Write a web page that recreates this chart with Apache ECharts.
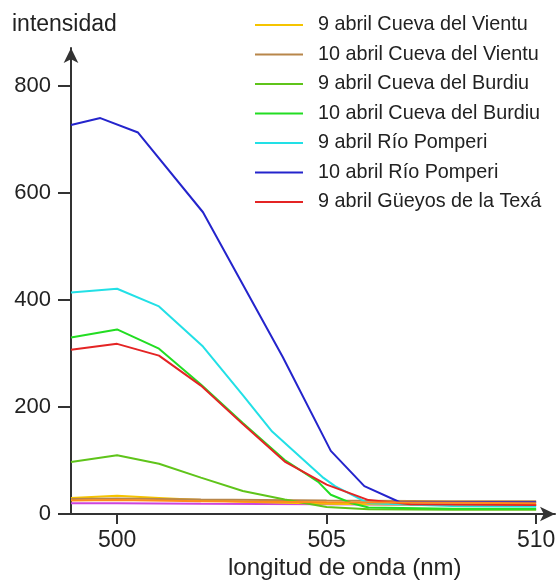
<!DOCTYPE html>
<html>
<head>
<meta charset="utf-8">
<script src="https://cdn.jsdelivr.net/npm/echarts@6/dist/echarts.min.js"></script>
<style>html,body{margin:0;padding:0;background:#fff;}#c{width:560px;height:582px;}</style>
</head>
<body>
<div id="c"></div>
<script>
// Data
const seriesNames = [
  '9 abril Cueva del Vientu',
  '10 abril Cueva del Vientu',
  '9 abril Cueva del Burdiu',
  '10 abril Cueva del Burdiu',
  '9 abril Río Pomperi',
  '10 abril Río Pomperi',
  '9 abril Güeyos de la Texá'
];
const xTicks = [500, 505, 510];
const yTicks = [0, 200, 400, 600, 800];

const xVientu9 = [498.9, 500, 501, 502, 503, 504, 505, 506, 508, 510];
const yVientu9 = [30, 34, 30, 26, 23, 21, 19, 18, 17, 17];
const xVientu10 = [498.9, 500, 502, 505, 508, 510];
const yVientu10 = [28, 29, 27, 25, 24, 24];
const xBurdiu9 = [498.9, 500, 501, 502, 503, 504, 505, 506, 508, 510];
const yBurdiu9 = [97, 110, 94, 68, 43, 27, 13, 9, 8, 8];
const xBurdiu10 = [498.9, 500, 501, 502, 503, 504, 504.8, 505.1, 505.6, 506, 508, 510];
const yBurdiu10 = [330, 345, 309, 242, 170, 101, 60, 36, 20, 12, 10, 10];
const xPomperi9 = [498.9, 500, 501, 502.05, 503, 503.7, 504.9, 505.2, 506, 508, 510];
const yPomperi9 = [414, 421, 388, 313, 222, 154, 69, 52, 20, 15, 14];
const xPomperi10 = [498.9, 499.6, 500.5, 502.05, 503.95, 505.1, 505.9, 506.75, 508, 510];
const yPomperi10 = [727, 740, 713, 564, 294, 118, 52, 22, 22, 22];
const xTexa9 = [498.9, 500, 501, 502, 503, 504, 505, 506, 507, 510];
const yTexa9 = [307, 318, 296, 240, 168, 98, 55, 26, 18, 17];
// two unlabeled traces near the baseline
const xExtraA = [498.9, 500, 502, 505, 508, 510];
const yExtraA = [20, 20, 19, 18, 17, 17];
const xExtraB = [498.9, 500, 502, 505, 508, 510];
const yExtraB = [25, 26, 24, 22, 21, 20];

const colors = ['#f5c400', '#b8864a', '#5fc41a', '#22dd22', '#22e0e6', '#2424cc', '#e42424'];
const xs = [xVientu9, xVientu10, xBurdiu9, xBurdiu10, xPomperi9, xPomperi10, xTexa9];
const ys = [yVientu9, yVientu10, yBurdiu9, yBurdiu10, yPomperi9, yPomperi10, yTexa9];

function pairs(x, y) { return x.map((v, i) => [v, y[i]]); }

const series = [];
series.push({ name: 'extraA', type: 'line', data: pairs(xExtraA, yExtraA), symbol: 'none',
  lineStyle: { width: 2, color: '#cc44dd' }, itemStyle: { color: '#cc44dd' } });
seriesNames.forEach((n, i) => {
  series.push({ name: n, type: 'line', data: pairs(xs[i], ys[i]), symbol: 'none',
    lineStyle: { width: 2, color: colors[i] }, itemStyle: { color: colors[i] } });
});
series.push({ name: 'extraB', type: 'line', data: pairs(xExtraB, yExtraB), symbol: 'none',
  lineStyle: { width: 2, color: '#ff8c1a' }, itemStyle: { color: '#ff8c1a' } });

const chart = echarts.init(document.getElementById('c'), null, { renderer: 'canvas' });
chart.setOption({
  animation: false,
  backgroundColor: '#fff',
  textStyle: { fontFamily: 'Liberation Sans, Arial, sans-serif' },
  title: [
    { text: 'intensidad', left: 12, top: 13, padding: 0,
      textStyle: { fontSize: 23, fontWeight: 'normal', color: '#222', fontFamily: 'Liberation Sans, Arial, sans-serif' } },
    { text: 'longitud de onda (nm)', left: 228, top: 556, padding: 0,
      textStyle: { fontSize: 24, fontWeight: 'normal', color: '#222', fontFamily: 'Liberation Sans, Arial, sans-serif' } }
  ],
  legend: {
    data: seriesNames,
    orient: 'vertical',
    left: 255, top: 15,
    padding: 0,
    icon: 'rect',
    itemWidth: 48, itemHeight: 2,
    itemGap: 9.5,
    textStyle: { fontSize: 19.8, lineHeight: 20, color: '#222', padding: [0, 0, 0, 10],
      fontFamily: 'Liberation Sans, Arial, sans-serif' }
  },
  grid: { left: 71, right: 5, top: 48, bottom: 68 },
  xAxis: {
    type: 'value', min: 498.9, max: 510.45,
    splitLine: { show: false },
    axisLine: { lineStyle: { color: '#333', width: 2 }, symbol: ['none', 'arrow'], symbolSize: [11, 15] },
    axisTick: { length: 10, lineStyle: { color: '#333', width: 2 }, customValues: xTicks },
    axisLabel: { fontSize: 23, color: '#222', margin: 15, customValues: xTicks }
  },
  yAxis: {
    type: 'value', min: 0, max: 871,
    splitLine: { show: false },
    axisLine: { show: true, lineStyle: { color: '#333', width: 2 }, symbol: ['none', 'arrow'], symbolSize: [11, 15] },
    axisTick: { show: true, length: 13, lineStyle: { color: '#333', width: 2 }, customValues: yTicks },
    axisLabel: { fontSize: 22, color: '#222', margin: 20, customValues: yTicks }
  },
  series: series
});
</script>
</body>
</html>
